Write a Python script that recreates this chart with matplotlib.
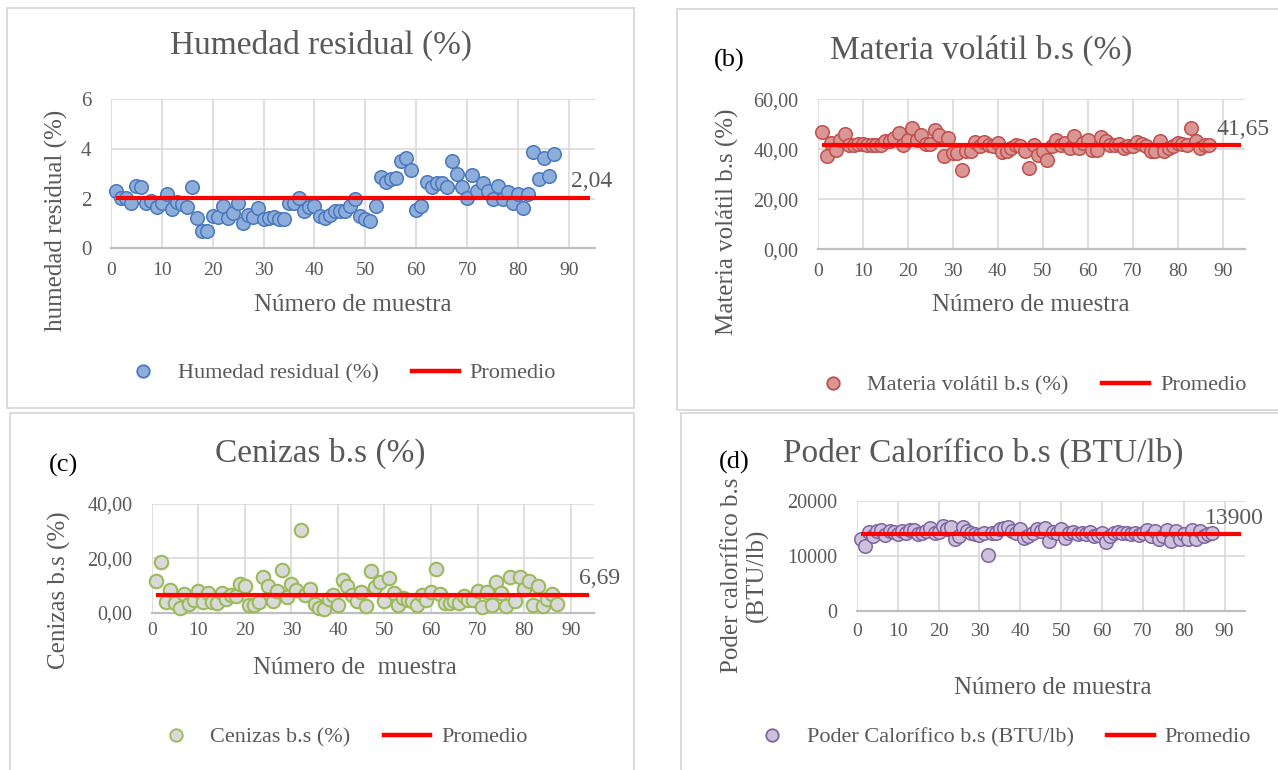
import matplotlib
matplotlib.use("Agg")
import matplotlib.pyplot as plt
from matplotlib.lines import Line2D
from matplotlib.patches import Rectangle
from matplotlib.ticker import FuncFormatter

W, H = 1278, 770
plt.rcParams['font.family'] = ['Liberation Serif', 'DejaVu Serif']

TXT = '#595959'
GRID = '#D9D9D9'

# valores, muestras 1..87
humedad = [2.29, 2.04, 2.01, 1.84, 2.52, 2.45, 1.84, 1.90, 1.66, 1.84,
           2.20, 1.60, 1.88, 1.77, 1.66, 2.45, 1.22, 0.71, 0.71, 1.29,
           1.25, 1.69, 1.22, 1.43, 1.84, 1.02, 1.36, 1.25, 1.63, 1.16,
           1.22, 1.25, 1.16, 1.18, 1.84, 1.84, 2.04, 1.50, 1.66, 1.70,
           1.29, 1.22, 1.36, 1.50, 1.52, 1.50, 1.70, 1.97, 1.29, 1.16,
           1.09, 1.70, 2.88, 2.65, 2.79, 2.83, 3.50, 3.63, 3.16, 1.56,
           1.70, 2.68, 2.45, 2.61, 2.61, 2.45, 3.51, 2.99, 2.45, 2.04,
           2.97, 2.31, 2.61, 2.31, 1.97, 2.52, 1.97, 2.27, 1.84, 2.18,
           1.63, 2.18, 3.88, 2.79, 3.65, 2.93, 3.81]
volatil = [46.9, 37.5, 42.6, 39.9, 43.6, 46.2, 41.9, 41.9, 42.2, 42.2,
           41.9, 41.9, 41.9, 41.9, 43.2, 43.2, 44.6, 46.6, 41.9, 43.9,
           48.6, 43.9, 45.9, 42.3, 42.3, 47.9, 45.9, 37.5, 44.6, 38.6,
           38.6, 31.6, 39.2, 39.2, 42.8, 41.2, 42.8, 41.9, 41.2, 42.6,
           38.8, 39.2, 40.6, 41.9, 41.2, 39.2, 32.5, 41.9, 37.9, 39.2,
           35.6, 41.2, 43.6, 41.9, 42.6, 40.6, 45.5, 40.6, 42.6, 43.9,
           39.9, 39.9, 44.8, 43.2, 41.9, 41.9, 42.2, 40.6, 41.2, 41.5,
           42.8, 42.2, 41.5, 39.5, 39.5, 43.2, 39.5, 40.6, 41.2, 42.6,
           42.2, 41.9, 48.6, 43.2, 40.6, 41.9, 41.9]
cenizas = [11.7, 18.5, 3.9, 8.3, 3.6, 1.8, 6.9, 3.3, 4.8, 8.1,
           3.9, 7.4, 3.9, 3.6, 7.1, 5.1, 6.5, 6.0, 10.5, 9.8,
           3.0, 3.0, 3.8, 13.1, 9.8, 4.2, 8.1, 15.8, 5.7, 10.5,
           8.3, 30.4, 6.5, 8.6, 3.3, 1.8, 1.2, 5.0, 6.5, 3.0,
           11.9, 9.8, 6.5, 4.2, 7.7, 2.6, 15.2, 9.3, 11.3, 4.2,
           12.9, 7.1, 3.0, 5.4, 4.8, 4.2, 3.0, 6.5, 4.5, 7.7,
           16.1, 6.9, 3.6, 3.6, 4.2, 3.6, 6.0, 4.8, 4.8, 8.1,
           2.1, 7.7, 3.0, 11.3, 7.4, 2.6, 13.1, 4.2, 13.3, 8.6,
           11.7, 3.0, 9.8, 2.6, 5.0, 6.9, 3.3]
poder = [12970, 11740, 14310, 13580, 14500, 14680, 13700, 14500, 14310, 13880,
         14500, 14070, 14680, 14680, 13880, 14190, 14500, 15110, 14070, 14310,
         15410, 14920, 15290, 12970, 13580, 15290, 14500, 14190, 13880, 13700,
         14190, 10210, 14190, 14190, 14800, 15110, 15290, 14500, 14190, 14920,
         13270, 13580, 14190, 14800, 14500, 15110, 12660, 14310, 14070, 14920,
         13270, 14190, 14310, 13880, 14190, 13880, 14310, 13580, 13700, 14190,
         12480, 13580, 14070, 14310, 14190, 14190, 13880, 14190, 13700, 14070,
         14680, 13580, 14500, 13090, 13580, 14680, 12660, 14500, 12970, 13880,
         13090, 14680, 13090, 14500, 13580, 13880, 14190]

promedios = [2.04, 41.65, 6.69, 13900]
promedio_lbl = ['2,04', '41,65', '6,69', '13900']
promedio_x = [1, 94]
xticks = list(range(0, 91, 10))


def fx(x):
    return x / W


def fy(y):
    return 1 - y / H


def box(x0, y0, x1, y1):
    return [x0 / W, 1 - y1 / H, (x1 - x0) / W, (y1 - y0) / H]


fig = plt.figure(figsize=(W / 100, H / 100), dpi=100)

# marcos de cada grafico
for x0, y0, x1, y1 in [(7, 8, 634, 408), (677, 9, 1300, 410),
                       (10, 413, 634, 790), (681, 413, 1300, 790)]:
    fig.add_artist(Rectangle((fx(x0), fy(y1)), (x1 - x0) / W, (y1 - y0) / H,
                             transform=fig.transFigure, fill=False,
                             ec='#D9D9D9', lw=1.3))


def panel(axpos, vals, avg, lbl, lbl_x, ylim, yticks, yfmt, fill, edge,
          ytick_size, xpad, ew=1.1):
    ax = fig.add_axes(box(*axpos))
    xs = list(range(1, len(vals) + 1))
    ax.scatter(xs, vals, s=95, c=fill, edgecolors=edge, linewidths=ew,
               zorder=3, clip_on=False)
    ax.plot(promedio_x, [avg, avg], color='#FF0000', lw=3, zorder=4,
            solid_capstyle='butt')
    ax.annotate(lbl, xy=(lbl_x, avg), xytext=(0, 16), textcoords='offset pixels',
                ha='left', va='center', fontsize=17, color=TXT,
                annotation_clip=False)
    ax.set_xlim(0, 95)
    ax.set_ylim(*ylim)
    ax.set_xticks(xticks)
    ax.set_yticks(yticks)
    if yfmt:
        ax.yaxis.set_major_formatter(FuncFormatter(yfmt))
    ax.grid(True, color=GRID, lw=1.2)
    ax.set_axisbelow(True)
    for s in ['top', 'right', 'left']:
        ax.spines[s].set_visible(False)
    ax.spines['bottom'].set_color('#BFBFBF')
    ax.spines['bottom'].set_linewidth(1.6)
    ax.tick_params(axis='x', length=0, labelsize=14, colors=TXT, pad=xpad)
    ax.tick_params(axis='y', length=0, labelsize=ytick_size, colors=TXT, pad=14)
    return ax


def coma(v, _):
    return f'{v:.2f}'.replace('.', ',')


def legend(cx, cy, label, fill, edge):
    h = [Line2D([], [], marker='o', ls='none', ms=9, mfc=fill, mec=edge, mew=1.3),
         Line2D([], [], color='#FF0000', lw=3.2)]
    fig.legend(h, [label, 'Promedio'], loc='center',
               bbox_to_anchor=(fx(cx), fy(cy)), ncol=2, frameon=False,
               fontsize=16, handlelength=2.1, handletextpad=0.5,
               columnspacing=1.5, labelcolor=TXT)


# (a) humedad residual
panel((110.7, 99.3, 594.6, 248.3), humedad, promedios[0], promedio_lbl[0], 90.4,
      (0, 6), [0, 2, 4, 6], None, '#8DADDA', '#4A78BE', 15, 10)
fig.text(fx(321), fy(45), 'Humedad residual (%)', ha='center', va='center',
         fontsize=24, color=TXT)
fig.text(fx(56), fy(220), 'humedad residual (%)', rotation=90, ha='center',
         va='center', fontsize=18, color=TXT)
fig.text(fx(353), fy(305), 'Número de muestra', ha='center', va='center',
         fontsize=18, color=TXT)
legend(338, 373, 'Humedad residual (%)', '#8DADDA', '#4A78BE')

# (b) materia volatil
panel((817.8, 99.3, 1245.4, 249.3), volatil, promedios[1], promedio_lbl[1], 88.5,
      (0, 60), [0, 20, 40, 60], coma, '#D99694', '#C0504D', 14.5, 10)
fig.text(fx(981), fy(50), 'Materia volátil b.s (%)', ha='center', va='center',
         fontsize=24, color=TXT)
fig.text(fx(729), fy(60), '(b)', ha='center', va='center', fontsize=19,
         color='black')
fig.text(fx(727), fy(222), 'Materia volátil b.s (%)', rotation=90, ha='center',
         va='center', fontsize=18, color=TXT)
fig.text(fx(1031), fy(305), 'Número de muestra', ha='center', va='center',
         fontsize=18, color=TXT)
legend(1028, 385, 'Materia volátil b.s (%)', '#D99694', '#C0504D')

# (c) cenizas
panel((151.7, 504, 594, 612.7), cenizas, promedios[2], promedio_lbl[2], 91.8,
      (0, 40), [0, 20, 40], coma, '#D9D9D9', '#9BBB59', 14.5, 7, ew=1.5)
fig.text(fx(320), fy(453), 'Cenizas b.s (%)', ha='center', va='center',
         fontsize=24, color=TXT)
fig.text(fx(64), fy(465), '(c)', ha='center', va='center', fontsize=19,
         color='black')
fig.text(fx(59), fy(590), 'Cenizas b.s (%)', rotation=90, ha='center',
         va='center', fontsize=18, color=TXT)
fig.text(fx(355), fy(668), 'Número de  muestra', ha='center', va='center',
         fontsize=18, color=TXT)
legend(340, 737, 'Cenizas b.s (%)', '#D9D9D9', '#9BBB59')

# (d) poder calorifico
panel((856.9, 500.7, 1245, 611), poder, promedios[3], promedio_lbl[3], 85.3,
      (0, 20000), [0, 10000, 20000], None, '#CCC0DA', '#8064A2', 14.5, 9)
fig.text(fx(983), fy(453), 'Poder Calorífico b.s (BTU/lb)', ha='center',
         va='center', fontsize=24, color=TXT)
fig.text(fx(734), fy(462), '(d)', ha='center', va='center', fontsize=19,
         color='black')
fig.text(fx(745), fy(575), 'Poder calorífico b.s\n(BTU/lb)', rotation=90,
         ha='center', va='center', fontsize=18, color=TXT, multialignment='center',
         linespacing=1.15)
fig.text(fx(1053), fy(688), 'Número de muestra', ha='center', va='center',
         fontsize=18, color=TXT)
legend(1000, 737, 'Poder Calorífico b.s (BTU/lb)', '#CCC0DA', '#8064A2')

fig.savefig('out.png', dpi=100)
